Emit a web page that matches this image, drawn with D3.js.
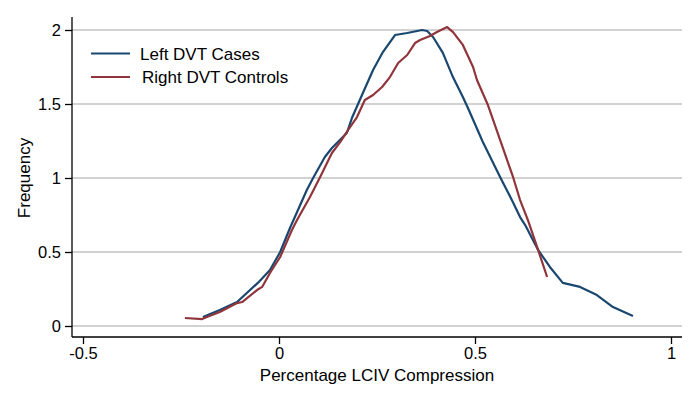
<!DOCTYPE html>
<html>
<head>
<meta charset="utf-8">
<script src="https://cdn.jsdelivr.net/npm/d3@7"></script>
<style>
  html, body { margin: 0; padding: 0; background: #fff; }
  svg { display: block; font-family: "Liberation Sans", Arial, Helvetica, sans-serif; }
</style>
</head>
<body>
<svg id="chart" width="699" height="402"></svg>
<script>
// Data (kernel density estimates)
const leftX = [-0.194, -0.151, -0.107, -0.054, -0.023, 0.003, 0.028, 0.071, 0.087, 0.117, 0.135, 0.173, 0.186, 0.214, 0.240, 0.265, 0.296, 0.327, 0.365, 0.378, 0.393, 0.418, 0.444, 0.469, 0.482, 0.520, 0.564, 0.594, 0.615, 0.628, 0.661, 0.691, 0.724, 0.768, 0.811, 0.852, 0.903];
const leftY = [0.061, 0.108, 0.162, 0.291, 0.378, 0.500, 0.662, 0.919, 1.000, 1.142, 1.203, 1.304, 1.405, 1.574, 1.730, 1.851, 1.966, 1.980, 2.000, 1.993, 1.953, 1.845, 1.680, 1.547, 1.473, 1.243, 1.007, 0.851, 0.736, 0.682, 0.514, 0.399, 0.291, 0.264, 0.209, 0.128, 0.068];
const rightX = [-0.240, -0.196, -0.184, -0.151, -0.107, -0.094, -0.056, -0.043, -0.023, 0.003, 0.033, 0.046, 0.079, 0.105, 0.135, 0.156, 0.176, 0.199, 0.219, 0.240, 0.263, 0.283, 0.304, 0.327, 0.347, 0.360, 0.385, 0.403, 0.429, 0.444, 0.469, 0.495, 0.505, 0.533, 0.564, 0.597, 0.615, 0.635, 0.661, 0.684];
const rightY = [0.054, 0.047, 0.061, 0.095, 0.155, 0.162, 0.243, 0.264, 0.358, 0.466, 0.649, 0.716, 0.872, 1.007, 1.169, 1.243, 1.324, 1.412, 1.527, 1.561, 1.615, 1.682, 1.777, 1.831, 1.912, 1.932, 1.959, 1.986, 2.020, 1.986, 1.899, 1.750, 1.662, 1.493, 1.257, 1.007, 0.851, 0.716, 0.514, 0.331];
const seriesNames = ["Left DVT Cases", "Right DVT Controls"];
const xTicks = [-0.5, 0, 0.5, 1];
const xTickLabels = ["-0.5", "0", "0.5", "1"];
const yTicks = [0, 0.5, 1, 1.5, 2];
const yTickLabels = ["0", "0.5", "1", "1.5", "2"];
const xTitle = "Percentage LCIV Compression";
const yTitle = "Frequency";

const colors = ["#1a476f", "#90353b"];

const svg = d3.select("#chart");
const plotLeft = 72, plotRight = 682, plotTop = 17, plotBottom = 337;

const x = d3.scaleLinear().domain([-0.5, 1]).range([83, 671]);
const y = d3.scaleLinear().domain([0, 2]).range([326, 30]);

// gridlines
svg.append("g").selectAll("line").data(yTicks).join("line")
  .attr("x1", plotLeft).attr("x2", plotRight)
  .attr("y1", d => y(d)).attr("y2", d => y(d))
  .attr("stroke", "#c3c3c3").attr("stroke-width", 1.6);

// y axis
const yAxis = d3.axisLeft(y).tickValues(yTicks).tickSize(7).tickPadding(4)
  .tickFormat((d, i) => yTickLabels[i]);
const gy = svg.append("g").attr("transform", `translate(${plotLeft},0)`).call(yAxis);
gy.select(".domain").remove();
gy.append("line").attr("x1", 0).attr("x2", 0).attr("y1", plotTop).attr("y2", plotBottom)
  .attr("stroke", "#000").attr("stroke-width", 1.3);
gy.selectAll(".tick line").attr("stroke", "#000").attr("stroke-width", 1.3);
gy.selectAll(".tick text").attr("font-size", 16.5).attr("fill", "#000")
  .attr("font-family", "Liberation Sans, Arial, sans-serif");

// x axis
const xAxis = d3.axisBottom(x).tickValues(xTicks).tickSize(7).tickPadding(3)
  .tickFormat((d, i) => xTickLabels[i]);
const gx = svg.append("g").attr("transform", `translate(0,${plotBottom})`).call(xAxis);
gx.select(".domain").remove();
gx.append("line").attr("x1", plotLeft).attr("x2", plotRight).attr("y1", 0).attr("y2", 0)
  .attr("stroke", "#000").attr("stroke-width", 1.3);
gx.selectAll(".tick line").attr("stroke", "#000").attr("stroke-width", 1.3);
gx.selectAll(".tick text").attr("font-size", 16.5).attr("fill", "#000")
  .attr("font-family", "Liberation Sans, Arial, sans-serif");

// lines
const line = d3.line().x(d => x(d[0])).y(d => y(d[1]));
const seriesData = [d3.zip(leftX, leftY), d3.zip(rightX, rightY)];
svg.append("g").selectAll("path").data(seriesData).join("path")
  .attr("d", line)
  .attr("fill", "none")
  .attr("stroke", (d, i) => colors[i])
  .attr("stroke-width", 2.2)
  .attr("stroke-linejoin", "round");

// titles
svg.append("text").attr("x", 377).attr("y", 381).attr("text-anchor", "middle")
  .attr("font-size", 17).attr("fill", "#000").text(xTitle);
svg.append("text").attr("transform", "translate(30,178) rotate(-90)")
  .attr("text-anchor", "middle").attr("font-size", 17).attr("fill", "#000").text(yTitle);

// legend
const lg = svg.append("g");
seriesNames.forEach((name, i) => {
  const ly = 53.5 + i * 23.5;
  lg.append("line").attr("x1", 91).attr("x2", 130).attr("y1", ly).attr("y2", ly)
    .attr("stroke", colors[i]).attr("stroke-width", 2.2);
  lg.append("text").attr("x", 140 + i * 2).attr("y", ly + 6).attr("font-size", 17)
    .attr("fill", "#000").text(name);
});
</script>
</body>
</html>
